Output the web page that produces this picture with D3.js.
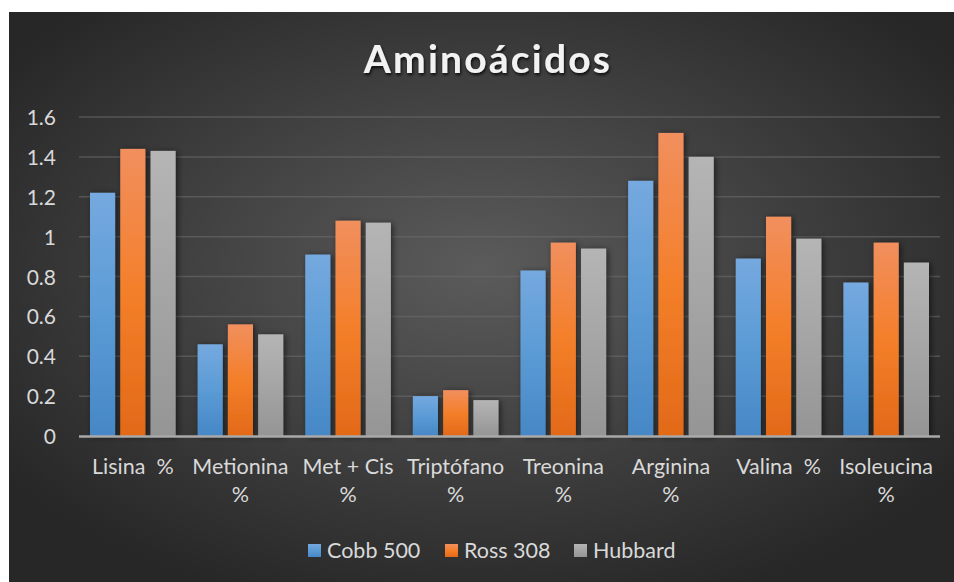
<!DOCTYPE html>
<html>
<head>
<meta charset="utf-8">
<script src="https://cdn.jsdelivr.net/npm/d3@7/dist/d3.min.js"></script>
<style>
  html, body { margin: 0; padding: 0; background: #fff; }
  svg { display: block; }
  text { font-family: Lato, "Open Sans", sans-serif; }
</style>
</head>
<body>
<div id="chart"></div>
<script>
"use strict";

// data
const categories = [
  ['Lisina  %'],
  ['Metionina', '%'],
  ['Met + Cis', '%'],
  ['Triptófano', '%'],
  ['Treonina', '%'],
  ['Arginina', '%'],
  ['Valina  %'],
  ['Isoleucina', '%']
];
const seriesNames = ['Cobb 500', 'Ross 308', 'Hubbard'];
const cobb500 = [1.22, 0.46, 0.91, 0.20, 0.83, 1.28, 0.89, 0.77];
const ross308 = [1.44, 0.56, 1.08, 0.23, 0.97, 1.52, 1.10, 0.97];
const hubbard = [1.43, 0.51, 1.07, 0.18, 0.94, 1.40, 0.99, 0.87];
const yTicks = [0, 0.2, 0.4, 0.6, 0.8, 1, 1.2, 1.4, 1.6];

const seriesValues = [cobb500, ross308, hubbard];
const gradStops = [
  ['#75a9df', '#5b9bd5', '#4687c6'],
  ['#f18f5e', '#f47f2a', '#e26918'],
  ['#b5b5b5', '#a5a5a5', '#959595']
];

const W = 954, H = 582;
const plot = { left: 79, right: 940, top: 117, bottom: 436 };

const svg = d3.select('#chart').append('svg')
  .attr('width', W).attr('height', H);

const defs = svg.append('defs');

let bg = defs.append('radialGradient').attr('id', 'bg')
  .attr('cx', '50%').attr('cy', '45%').attr('r', '62%');
bg.append('stop').attr('offset', '0%').attr('stop-color', '#5b5b5b');
bg.append('stop').attr('offset', '100%').attr('stop-color', '#272727');

gradStops.forEach((s, i) => {
  let g = defs.append('linearGradient').attr('id', 'bar' + i)
    .attr('x1', 0).attr('y1', 0).attr('x2', 0).attr('y2', 1);
  g.append('stop').attr('offset', '0%').attr('stop-color', s[0]);
  g.append('stop').attr('offset', '50%').attr('stop-color', s[1]);
  g.append('stop').attr('offset', '100%').attr('stop-color', s[2]);
});

let shadow = defs.append('filter').attr('id', 'shadow')
  .attr('x', '-30%').attr('y', '-10%').attr('width', '170%').attr('height', '130%');
shadow.append('feDropShadow').attr('dx', 2).attr('dy', 1)
  .attr('stdDeviation', 3).attr('flood-color', '#000').attr('flood-opacity', 0.55);

let titleShadow = defs.append('filter').attr('id', 'tshadow')
  .attr('x', '-10%').attr('y', '-30%').attr('width', '120%').attr('height', '160%');
titleShadow.append('feDropShadow').attr('dx', 1).attr('dy', 2)
  .attr('stdDeviation', 1.5).attr('flood-color', '#000').attr('flood-opacity', 0.8);

svg.append('rect')
  .attr('x', 9).attr('y', 12).attr('width', W - 9).attr('height', H - 12)
  .attr('fill', 'url(#bg)');

svg.append('text')
  .attr('x', 488).attr('y', 73)
  .attr('text-anchor', 'middle')
  .attr('fill', '#f2f2f2')
  .attr('font-family', '"Open Sans", sans-serif')
  .attr('font-weight', 'bold')
  .attr('font-size', 39)
  .attr('letter-spacing', 2.2)
  .attr('filter', 'url(#tshadow)')
  .text('Aminoácidos');

const y = d3.scaleLinear().domain([0, 1.6]).range([plot.bottom, plot.top]);
const x0 = d3.scaleBand().domain(d3.range(categories.length))
  .range([plot.left, plot.right]).paddingInner(0).paddingOuter(0);
const x1 = d3.scaleBand().domain(d3.range(seriesNames.length))
  .range([11, x0.bandwidth() - 11]).paddingInner(0.17).paddingOuter(0);

// gridlines
svg.append('g')
  .selectAll('line')
  .data(yTicks.filter((t) => t > 0))
  .join('line')
  .attr('x1', plot.left).attr('x2', plot.right)
  .attr('y1', (d) => y(d)).attr('y2', (d) => y(d))
  .attr('stroke', '#6a6a6a').attr('stroke-opacity', 0.6).attr('stroke-width', 1.5);

// y axis labels
const yAxis = d3.axisLeft(y).tickValues(yTicks).tickSize(0).tickPadding(0)
  .tickFormat((d) => String(d));
svg.append('g')
  .attr('transform', 'translate(56,0)')
  .call(yAxis)
  .call((g) => g.select('.domain').remove())
  .selectAll('text')
  .attr('fill', '#d9d9d9')
  .attr('font-family', 'Lato, sans-serif')
  .attr('font-size', 21)
  .attr('dy', '0.36em');

// bars
const groups = svg.append('g')
  .selectAll('g')
  .data(categories.map((c, i) => i))
  .join('g')
  .attr('transform', (i) => 'translate(' + x0(i) + ',0)');

groups.selectAll('rect')
  .data((i) => seriesValues.map((vals, s) => ({ s: s, v: vals[i] })))
  .join('rect')
  .attr('x', (d) => x1(d.s))
  .attr('width', x1.bandwidth())
  .attr('y', (d) => y(d.v))
  .attr('height', (d) => y(0) - y(d.v))
  .attr('fill', (d) => 'url(#bar' + d.s + ')')
  .attr('filter', 'url(#shadow)');

// zero axis line
svg.append('line')
  .attr('x1', plot.left).attr('x2', plot.right)
  .attr('y1', y(0) + 0.5).attr('y2', y(0) + 0.5)
  .attr('stroke', '#a9a9a9').attr('stroke-width', 2.5);

// category labels
const xLabels = svg.append('g')
  .selectAll('text')
  .data(categories)
  .join('text')
  .attr('x', (d, i) => x0(i) + x0.bandwidth() / 2)
  .attr('y', 474)
  .attr('text-anchor', 'middle')
  .attr('fill', '#d9d9d9')
  .attr('font-size', 21.5);

xLabels.selectAll('tspan')
  .data((d) => d)
  .join('tspan')
  .attr('x', function () { return d3.select(this.parentNode).attr('x'); })
  .attr('dy', (d, i) => i === 0 ? 0 : 28)
  .attr('xml:space', 'preserve')
  .text((d) => d);

// legend
const legendX = [308, 445, 574];
const legend = svg.append('g')
  .selectAll('g')
  .data(seriesNames)
  .join('g')
  .attr('transform', (d, i) => 'translate(' + legendX[i] + ',544)');

legend.append('rect')
  .attr('width', 13).attr('height', 13)
  .attr('fill', (d, i) => 'url(#bar' + i + ')');

legend.append('text')
  .attr('x', 19).attr('y', 13.5)
  .attr('fill', '#d9d9d9')
  .attr('font-size', 21.5)
  .text((d) => d);
</script>
</body>
</html>
